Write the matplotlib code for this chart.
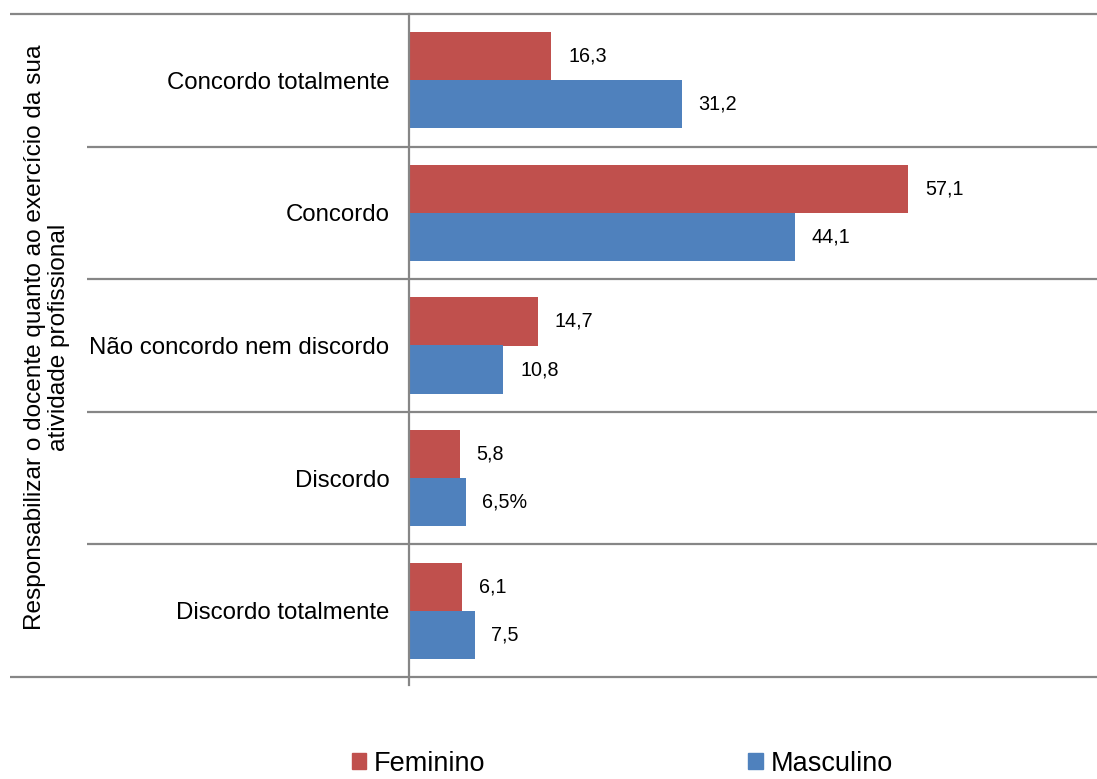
import matplotlib.pyplot as plt
import matplotlib.transforms as mtransforms
from matplotlib.patches import Patch

categorias = ['Concordo totalmente', 'Concordo', 'Não concordo nem discordo',
              'Discordo', 'Discordo totalmente']
feminino = [16.3, 57.1, 14.7, 5.8, 6.1]
masculino = [31.2, 44.1, 10.8, 6.5, 7.5]
fem_rotulos = ['16,3', '57,1', '14,7', '5,8', '6,1']
masc_rotulos = ['31,2', '44,1', '10,8', '6,5%', '7,5']
titulo_y = 'Responsabilizar o docente quanto ao exercício da sua\natividade profissional'

cor_fem = '#C0504D'
cor_masc = '#4F81BD'
cinza = '#868686'

plt.rcParams['font.family'] = ['Liberation Sans', 'DejaVu Sans']

fig = plt.figure(figsize=(10.97, 7.79), dpi=100)
ax = fig.add_axes([409/1097, 1-677/779, 1-409/1097, (677-14)/779])

pos = list(range(len(categorias)))
h = 0.362
ax.barh([p - h/2 for p in pos], feminino, height=h, color=cor_fem, label='Feminino')
ax.barh([p + h/2 for p in pos], masculino, height=h, color=cor_masc, label='Masculino')

for p, v, t in zip(pos, feminino, fem_rotulos):
    ax.annotate(t, (v, p - h/2), xytext=(12, 0), textcoords='offset points',
                va='center', ha='left', fontsize=14.2)
for p, v, t in zip(pos, masculino, masc_rotulos):
    ax.annotate(t, (v, p + h/2), xytext=(12, 0), textcoords='offset points',
                va='center', ha='left', fontsize=14.2)

ax.set_xlim(0, 78.7)
ax.set_ylim(len(categorias) - 0.5, -0.5)
ax.set_xticks([])
ax.set_yticks(pos)
ax.set_yticklabels(categorias, fontsize=17.3)
ax.tick_params(axis='y', which='major', length=0, pad=14)
ax.set_yticks([p - 0.5 for p in pos] + [len(pos) - 0.5], minor=True)
ax.tick_params(axis='y', which='minor', length=5, width=1.4, color=cinza)

for s in ['top', 'right', 'bottom']:
    ax.spines[s].set_visible(False)
ax.spines['left'].set_color(cinza)
ax.spines['left'].set_linewidth(1.6)
ax.spines['left'].set_bounds(len(pos) - 0.44, -0.5)

# linhas separadoras das categorias
trans = mtransforms.blended_transform_factory(ax.transAxes, ax.transData)
seps = [p - 0.5 for p in pos] + [len(pos) - 0.5]
for i, y in enumerate(seps):
    x0 = -(409 - 10) / 688 if i in (0, len(seps) - 1) else -(409 - 87) / 688
    ax.plot([x0, 1.0], [y, y], transform=trans, color=cinza, lw=1.6,
            clip_on=False, solid_capstyle='butt')

fig.text(47/1097, 1-337/779, titulo_y, rotation=90, ha='center', va='center',
         multialignment='center', fontsize=17.6, linespacing=1.08)

handles = [Patch(color=cor_fem, label='Feminino'), Patch(color=cor_masc, label='Masculino')]
fig.legend(handles=handles, loc='center', bbox_to_anchor=(0.5674, 0.0195), ncol=2,
           frameon=False, fontsize=19.5, handlelength=0.52, handleheight=0.52,
           handletextpad=0.3, columnspacing=9.7, borderpad=0.2)

fig.savefig('out.png', dpi=100)
